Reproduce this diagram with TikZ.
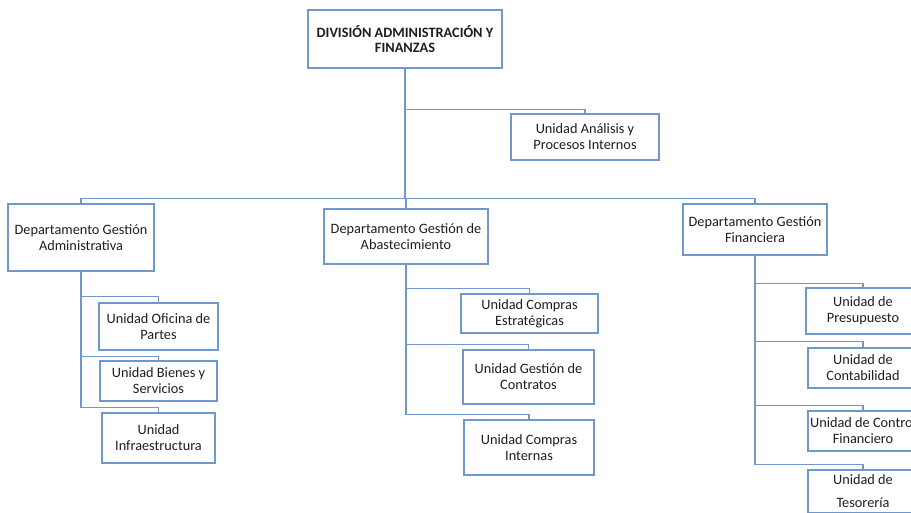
\documentclass[tikz,border=0pt]{standalone}
\usepackage{fontspec}
\setmainfont{Carlito}
\usetikzlibrary{calc}
\definecolor{azul}{RGB}{112,152,205}
\definecolor{texto}{RGB}{30,30,30}
\newcommand{\Rama}[3]{% nodo padre, nodo hijo, altura del codo sobre el hijo
	\draw [enlace](#1.south) |- ($(#2.north)+(0,-#3)$) -- (#2.north);
	}

\begin{document}
\begin{tikzpicture}[x=1pt,y=-1pt,
	font=\fontsize{14.3}{16}\selectfont,
	caja/.style={draw=azul, line width=1.4pt, align=center, inner sep=1pt, text=texto},
	enlace/.style={draw=azul, line width=1.5pt}]
	\useasboundingbox (0,0) rectangle (911,512);
	\clip (0,0) rectangle (911,512);
	% division
	\node[caja, font=\fontsize{14.3}{15}\selectfont\bfseries, minimum width=194, minimum height=58] (div) at (405,39) {DIVISIÓN ADMINISTRACIÓN Y\\FINANZAS};
	\node[caja, minimum width=148, minimum height=46] (ana) at (585,137) {Unidad Análisis y\\Procesos Internos};
	% departamentos
	\node[caja, minimum width=146, minimum height=67] (adm) at (81,237.5) {Departamento Gestión\\Administrativa};
	\node[caja, minimum width=164, minimum height=55] (abs) at (406,236.5) {Departamento Gestión de\\Abastecimiento};
	\node[caja, minimum width=144, minimum height=51] (fin) at (755,229.5) {Departamento Gestión\\Financiera};
	% unidades
	\node[caja, minimum width=119, minimum height=47] (ofi) at (158.5,326.5) {Unidad Oficina de\\Partes};
	\node[caja, minimum width=117, minimum height=40] (bie) at (158.5,381) {Unidad Bienes y\\Servicios};
	\node[caja, minimum width=113, minimum height=50] (inf) at (158.5,438) {Unidad\\Infraestructura};
	\node[caja, minimum width=137, minimum height=39] (ces) at (529.5,313.5) {Unidad Compras\\Estratégicas};
	\node[caja, minimum width=131, minimum height=54] (con) at (528.5,377) {Unidad Gestión de\\Contratos};
	\node[caja, minimum width=130, minimum height=55] (cin) at (529,447.5) {Unidad Compras\\Internas};
	\node[caja, minimum width=114, minimum height=46] (pre) at (863,311) {Unidad de\\Presupuesto};
	\node[caja, minimum width=110, minimum height=40] (cnt) at (863,368) {Unidad de\\Contabilidad};
	\node[caja, minimum width=110, minimum height=40] (ctr) at (863,431) {Unidad de Control\\Financiero};
	\node[caja, minimum width=110, minimum height=43] (tes) at (863,491.5) {Unidad de\\[7pt]Tesorería};
	% enlaces
	\Rama{div}{ana}{4}
	\Rama{div}{adm}{5}
	\Rama{div}{abs}{10}
	\Rama{div}{fin}{5}
	\Rama{adm}{ofi}{6}
	\Rama{adm}{bie}{4}
	\Rama{adm}{inf}{5}
	\Rama{abs}{ces}{5}
	\Rama{abs}{con}{5}
	\Rama{abs}{cin}{5}
	\Rama{fin}{pre}{4}
	\Rama{fin}{cnt}{6}
	\Rama{fin}{ctr}{5}
	\Rama{fin}{tes}{5}
\end{tikzpicture}
\end{document}
